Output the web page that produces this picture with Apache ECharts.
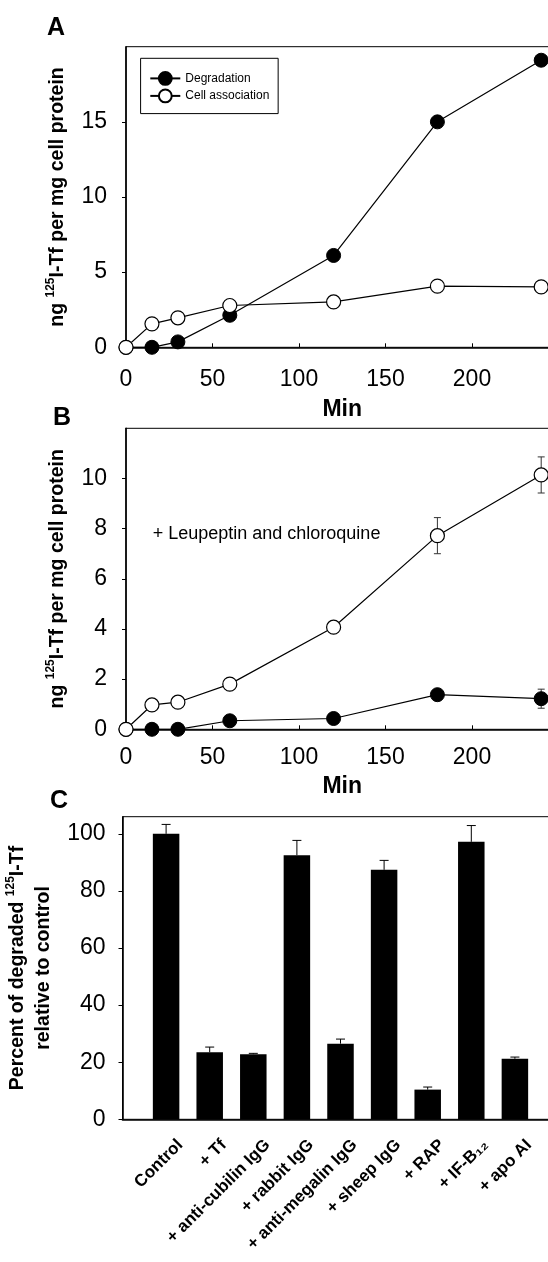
<!DOCTYPE html>
<html><head><meta charset="utf-8">
<script src="https://cdn.jsdelivr.net/npm/echarts@6/dist/echarts.min.js"></script>
<style>html,body{margin:0;padding:0;background:#fff}#chart{width:548px;height:1262px}</style>
</head><body><div id="chart"></div><script>
// ---------- data ----------
const timeMin = [0, 15, 30, 60, 120, 180, 240];
const aDegradation = [0, 0, 0.36, 2.13, 6.11, 15.0, 19.1];
const aCellAssociation = [0, 1.56, 1.96, 2.78, 3.02, 4.07, 4.02];
const bDegradation = [0, 0, 0, 0.34, 0.43, 1.38, 1.22];
const bDegradationErr = [0, 0, 0, 0, 0, 0, 0.38];
const bCellAssociation = [0, 0.97, 1.08, 1.80, 4.07, 7.72, 10.14];
const bCellAssociationErr = [0, 0, 0, 0, 0, 0.72, 0.72];
const cCategories = ['Control', '+ Tf', '+ anti-cubilin IgG', '+ rabbit IgG', '+ anti-megalin IgG', '+ sheep IgG', '+ RAP', '+ IF-B₁₂', '+ apo AI'];
const cPercent = [100, 23.5, 22.8, 92.5, 26.5, 87.4, 10.4, 97.2, 21.2];
const cPercentErr = [3.3, 1.8, 0.3, 5.2, 1.6, 3.3, 0.9, 5.7, 0.6];
const minTicks = [0, 50, 100, 150, 200];
const aYTicks = [0, 5, 10, 15];
const bYTicks = [0, 2, 4, 6, 8, 10];
const cYTicks = [0, 20, 40, 60, 80, 100];

// ---------- helpers ----------
const FF = 'Liberation Sans, Arial, Helvetica, sans-serif';
const pairs = (xs, ys) => xs.map((x, i) => [x, ys[i]]);
const errData = (xs, ys, es) => xs.map((x, i) => [x, ys[i] - es[i], ys[i] + es[i]]).filter((d, i) => es[i] > 0);
const padCats = [' '].concat(cCategories, ['  ']);

function errRender(capHalf, color, lowerCap) {
  return function (params, api) {
    const x = api.value(0), lo = api.value(1), hi = api.value(2);
    const pLo = api.coord([x, lo]), pHi = api.coord([x, hi]);
    const style = { stroke: color, lineWidth: 1 };
    const ch = [
      { type: 'line', shape: { x1: pLo[0], y1: pLo[1], x2: pHi[0], y2: pHi[1] }, style },
      { type: 'line', shape: { x1: pHi[0] - capHalf, y1: pHi[1], x2: pHi[0] + capHalf, y2: pHi[1] }, style }
    ];
    if (lowerCap) ch.push({ type: 'line', shape: { x1: pLo[0] - capHalf, y1: pLo[1], x2: pLo[0] + capHalf, y2: pLo[1] }, style });
    return { type: 'group', children: ch };
  };
}

const supRich = { sup: { fontSize: 12, fontWeight: 'bold', fontFamily: FF, color: '#000', lineHeight: 14, verticalAlign: 'top' } };
const yNameStyle = { fontFamily: FF, fontSize: 19.5, fontWeight: 'bold', color: '#000', lineHeight: 26, rich: supRich };
const axisLine = { show: true, onZero: false, lineStyle: { color: '#000', width: 1.6 } };
const tickLabel = { fontFamily: FF, fontSize: 23, color: '#000' };

function timeAxis(gridIndex, margin, nameGap) {
  return {
    type: 'value', gridIndex, min: 0, max: 250,
    name: 'Min', nameLocation: 'middle', nameGap,
    nameTextStyle: { fontFamily: FF, fontSize: 23, fontWeight: 'bold', color: '#000' },
    axisLine, splitLine: { show: false },
    axisTick: { show: true, inside: true, length: 4, customValues: minTicks, lineStyle: { color: '#000', width: 1 } },
    axisLabel: Object.assign({ margin, customValues: minTicks }, tickLabel)
  };
}
function valueAxis(gridIndex, max, ticks, name, nameGap, margin) {
  return {
    type: 'value', gridIndex, min: 0, max,
    name, nameLocation: 'middle', nameGap, nameTextStyle: yNameStyle,
    axisLine, splitLine: { show: false },
    axisTick: { show: true, inside: false, length: 4, customValues: ticks, lineStyle: { color: '#000', width: 1 } },
    axisLabel: Object.assign({ margin, customValues: ticks }, tickLabel)
  };
}

const filled = { symbol: 'circle', symbolSize: 14, itemStyle: { color: '#000', borderColor: '#000', borderWidth: 1 }, lineStyle: { color: '#000', width: 1.2 } };
const open = { symbol: 'circle', symbolSize: 14, itemStyle: { color: '#fff', borderColor: '#000', borderWidth: 1.2 }, lineStyle: { color: '#000', width: 1.2 } };
const gridBase = { show: true, borderColor: '#000', borderWidth: 1, backgroundColor: 'transparent', containLabel: false, outerBoundsMode: 'none' };

const option = {
  animation: false,
  backgroundColor: '#fff',
  grid: [
    Object.assign({ left: 126, top: 46.7, right: -10.5, height: 300.6 }, gridBase),
    Object.assign({ left: 126, top: 428.3, right: -10.5, height: 301 }, gridBase),
    Object.assign({ left: 122.5, top: 816.7, right: -10.5, height: 302.6 }, gridBase)
  ],
  legend: {
    data: ['Degradation', 'Cell association'],
    orient: 'vertical', left: 140.6, top: 58.3,
    itemWidth: 30, itemHeight: 16, itemGap: 2.7,
    padding: [12.7, 8.8, 10.3, 8.7],
    borderColor: '#000', borderWidth: 1, backgroundColor: '#fff',
    textStyle: { fontFamily: FF, fontSize: 12, color: '#000' },
    selectedMode: false
  },
  xAxis: [
    timeAxis(0, 21, 51),
    timeAxis(1, 17, 46),
    {
      type: 'category', gridIndex: 2, data: padCats, boundaryGap: false,
      axisLine, axisTick: { show: false }, splitLine: { show: false },
      axisLabel: {
        interval: 0, rotate: 45, margin: 9, fontFamily: FF, fontSize: 17, fontWeight: 'bold', color: '#000',
        lineHeight: 40, verticalAlign: 'top',
        formatter: v => v.trim() === '' ? '' : v
      }
    }
  ],
  yAxis: [
    valueAxis(0, 20, aYTicks, 'ng {sup|125}I-Tf per mg cell protein', 52, 19),
    valueAxis(1, 12, bYTicks, 'ng {sup|125}I-Tf per mg cell protein', 52, 19),
    valueAxis(2, 106, cYTicks, 'Percent of degraded {sup|125}I-Tf\nrelative to control', 55, 17)
  ],
  graphic: [
    { type: 'text', left: 47, top: 16, style: { text: 'A', font: 'bold 25px ' + FF, fill: '#000' } },
    { type: 'text', left: 53, top: 405.5, style: { text: 'B', font: 'bold 25px ' + FF, fill: '#000' } },
    { type: 'text', left: 50, top: 789, style: { text: 'C', font: 'bold 25px ' + FF, fill: '#000' } },
    { type: 'text', left: 152.7, top: 525, style: { text: '+ Leupeptin and chloroquine', font: '18px ' + FF, fill: '#000' } }
  ],
  series: [
    Object.assign({ type: 'line', name: 'Degradation', xAxisIndex: 0, yAxisIndex: 0, data: pairs(timeMin, aDegradation), z: 3 }, filled),
    Object.assign({ type: 'line', name: 'Cell association', xAxisIndex: 0, yAxisIndex: 0, data: pairs(timeMin, aCellAssociation), z: 3 }, open),
    { type: 'custom', xAxisIndex: 1, yAxisIndex: 1, z: 2, renderItem: errRender(3.5, '#333', true), data: errData(timeMin, bDegradation, bDegradationErr), encode: { x: 0, y: [1, 2] } },
    { type: 'custom', xAxisIndex: 1, yAxisIndex: 1, z: 2, renderItem: errRender(3.5, '#333', true), data: errData(timeMin, bCellAssociation, bCellAssociationErr), encode: { x: 0, y: [1, 2] } },
    Object.assign({ type: 'line', name: 'Degradation', xAxisIndex: 1, yAxisIndex: 1, data: pairs(timeMin, bDegradation), z: 3 }, filled),
    Object.assign({ type: 'line', name: 'Cell association', xAxisIndex: 1, yAxisIndex: 1, data: pairs(timeMin, bCellAssociation), z: 3 }, open),
    { type: 'custom', xAxisIndex: 2, yAxisIndex: 2, z: 1, renderItem: errRender(4.5, '#000', false),
      data: cCategories.map((c, i) => [c, cPercent[i], cPercent[i] + cPercentErr[i]]), encode: { x: 0, y: [1, 2] } },
    { type: 'bar', xAxisIndex: 2, yAxisIndex: 2, z: 2, barWidth: 26.5, itemStyle: { color: '#000' },
      data: cCategories.map((c, i) => [c, cPercent[i]]) }
  ]
};
const chart = echarts.init(document.getElementById('chart'), null, { renderer: 'canvas' });
chart.setOption(option);
</script></body></html>
